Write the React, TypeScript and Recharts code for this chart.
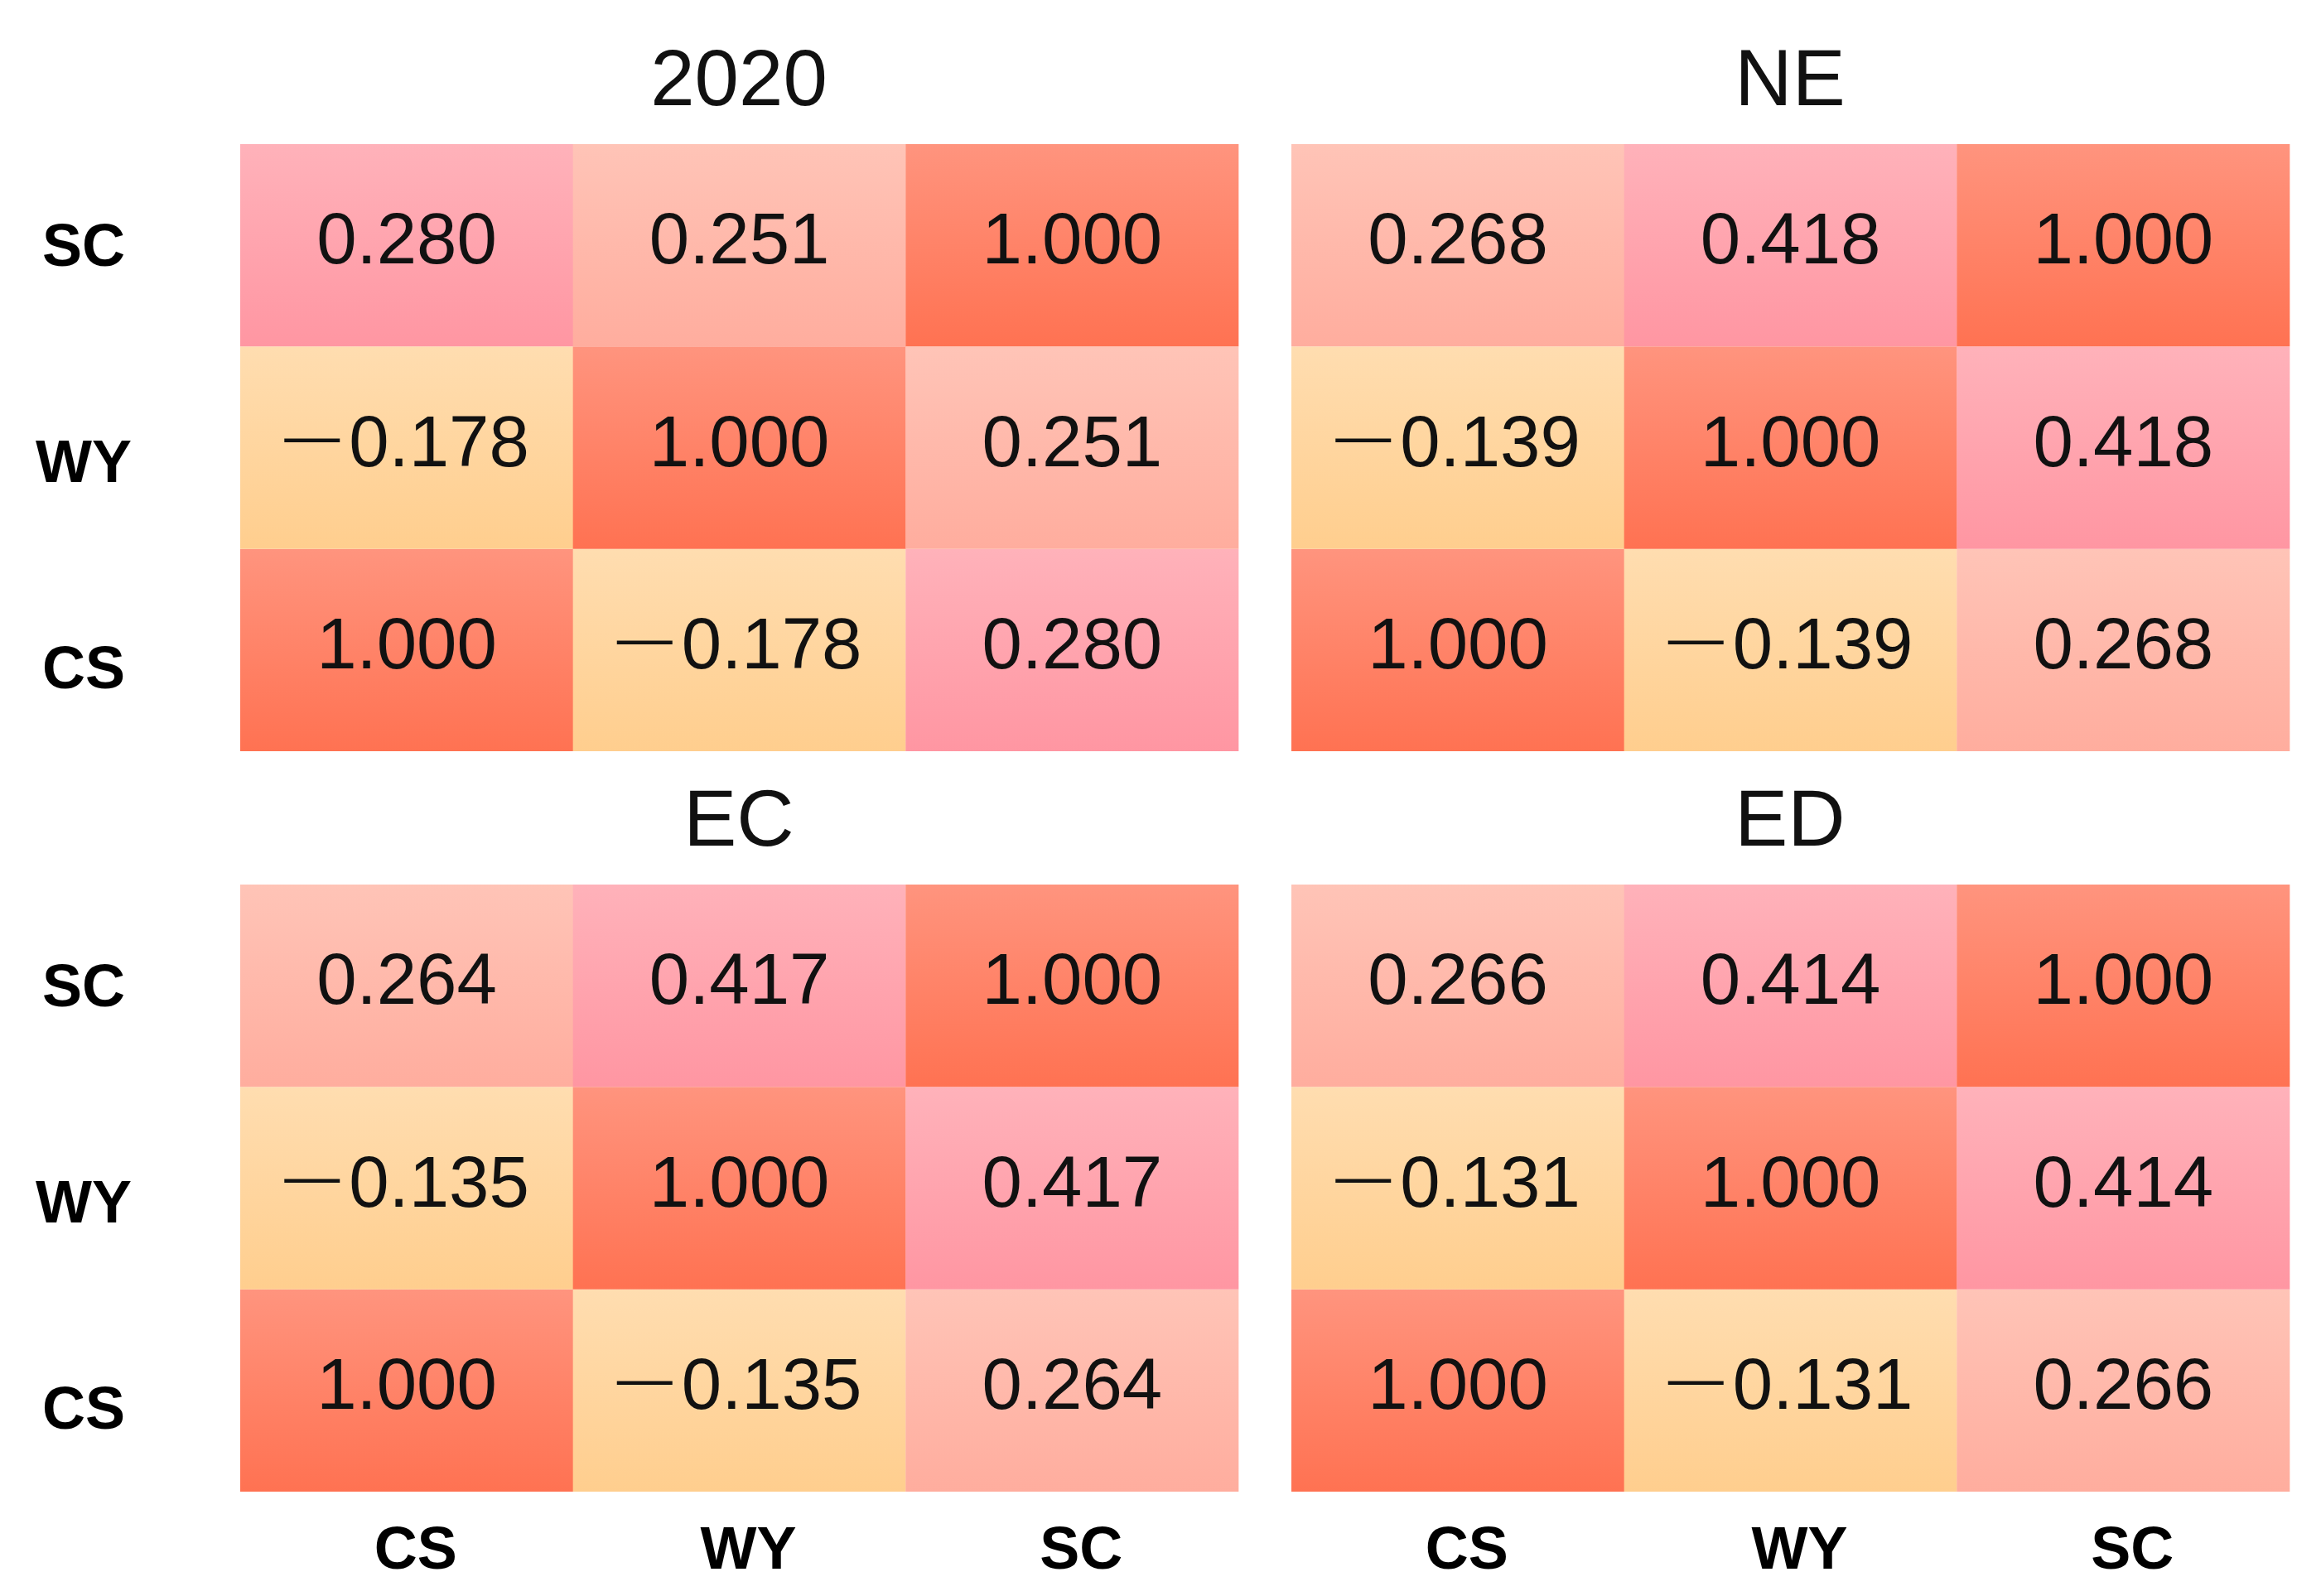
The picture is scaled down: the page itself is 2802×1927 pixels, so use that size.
import React from "react";
import { BarChart, Bar, XAxis, YAxis, Cell, LabelList } from "recharts";

// variables (rows bottom -> top, columns left -> right)
const vars = ["CS", "WY", "SC"];
const titles = ["2020", "NE", "EC", "ED"];

// correlation matrices, row i = vars[i], col j = vars[j]
const m2020 = [
  [1.0, -0.178, 0.28],
  [-0.178, 1.0, 0.251],
  [0.28, 0.251, 1.0],
];
const mNE = [
  [1.0, -0.139, 0.268],
  [-0.139, 1.0, 0.418],
  [0.268, 0.418, 1.0],
];
const mEC = [
  [1.0, -0.135, 0.264],
  [-0.135, 1.0, 0.417],
  [0.264, 0.417, 1.0],
];
const mED = [
  [1.0, -0.131, 0.266],
  [-0.131, 1.0, 0.414],
  [0.266, 0.414, 1.0],
];

// gradient (top, bottom) by rank of value within a panel
const palette = [
  ["#FFDDB0", "#FFCE8E"],
  ["#FFC4B7", "#FFAD9E"],
  ["#FFB2BA", "#FF96A2"],
  ["#FF947E", "#FF7252"],
];

const FONT = "'Liberation Sans', Arial, sans-serif";
const CHART_W = 1500;
const CHART_H = 1030;
// small vertical nudges of the row labels (CS, WY, SC)
const Y_NUDGE = [21, 16, 0];

function Panel({ id, title, matrix, left, top, showX, showY }: any) {
  const sorted = Array.from(new Set(matrix.flat() as number[])).sort((a, b) => a - b);
  const rank = (v: number) => sorted.indexOf(v);

  const data = vars.map((col, ci) => ({
    col,
    r0: 1,
    r1: 1,
    r2: 1,
    v0: matrix[0][ci],
    v1: matrix[1][ci],
    v2: matrix[2][ci],
  }));

  const renderValue = (p: any) => {
    const { x, y, width, height, value } = p;
    const cx = x + width / 2;
    const by = y + height / 2 + 22;
    if (value < 0) {
      return (
        <text x={cx} y={by} textAnchor="middle" fontSize={87} fontFamily={FONT} fill="#111">
          <tspan fontSize={67} dy={-14}>{"\u2014"}</tspan>
          <tspan dx={11} dy={14}>{Math.abs(value).toFixed(3)}</tspan>
        </text>
      );
    }
    return (
      <text x={cx} y={by} textAnchor="middle" fontSize={87} fontFamily={FONT} fill="#111">
        {value.toFixed(3)}
      </text>
    );
  };

  const xTick = (p: any) => (
    <text
      x={p.x + 11}
      y={p.y + 93}
      textAnchor="middle"
      fontSize={72}
      fontWeight="bold"
      fontFamily={FONT}
      fill="#000"
    >
      {p.payload.value}
    </text>
  );

  const yTick = (p: any) => {
    const i = Math.floor(p.payload.value);
    return (
      <text
        x={101}
        y={p.y + 25 + Y_NUDGE[i]}
        textAnchor="middle"
        fontSize={72}
        fontWeight="bold"
        fontFamily={FONT}
        fill="#000"
      >
        {vars[i]}
      </text>
    );
  };

  return (
    <div style={{ position: "absolute", left, top, width: CHART_W, height: CHART_H }}>
      <div
        style={{
          position: "absolute",
          left: 290 + 602 - 400,
          width: 800,
          top: 174 - 128,
          textAlign: "center",
          fontFamily: FONT,
          fontSize: 96,
          lineHeight: "96px",
          color: "#111",
        }}
      >
        {title}
      </div>
      <BarChart
        width={CHART_W}
        height={CHART_H}
        data={data}
        margin={{ top: 174, right: 5, bottom: 0, left: 0 }}
        barCategoryGap={0}
        barGap={0}
      >
        <defs>
          {palette.map((c, i) => (
            <linearGradient key={i} id={`${id}-g${i}`} x1="0" y1="0" x2="0" y2="1">
              <stop offset="0%" stopColor={c[0]} />
              <stop offset="100%" stopColor={c[1]} />
            </linearGradient>
          ))}
        </defs>
        <XAxis
          dataKey="col"
          type="category"
          height={123}
          axisLine={false}
          tickLine={false}
          tickSize={0}
          tickMargin={0}
          interval={0}
          tick={showX ? xTick : false}
        />
        <YAxis
          type="number"
          domain={[0, 3]}
          ticks={[0.5, 1.5, 2.5]}
          width={290}
          axisLine={false}
          tickLine={false}
          tickSize={0}
          tickMargin={0}
          interval={0}
          tick={showY ? yTick : false}
        />
        {[0, 1, 2].map((r) => (
          <Bar key={r} dataKey={`r${r}`} stackId="a" isAnimationActive={false}>
            {data.map((d, ci) => (
              <Cell key={d.col} fill={`url(#${id}-g${rank(matrix[r][ci])})`} />
            ))}
            <LabelList dataKey={`v${r}`} content={renderValue} />
          </Bar>
        ))}
      </BarChart>
    </div>
  );
}

export default function App() {
  return (
    <div
      style={{
        position: "absolute",
        left: 0,
        top: 0,
        width: 2802,
        height: 1927,
        background: "#fff",
        overflow: "hidden",
      }}
    >
      <Panel id="p0" title={titles[0]} matrix={m2020} left={0} top={0} showY showX={false} />
      <Panel id="p1" title={titles[1]} matrix={mNE} left={1269} top={0} showY={false} showX={false} />
      <Panel id="p2" title={titles[2]} matrix={mEC} left={0} top={894} showY showX />
      <Panel id="p3" title={titles[3]} matrix={mED} left={1269} top={894} showY={false} showX />
    </div>
  );
}
